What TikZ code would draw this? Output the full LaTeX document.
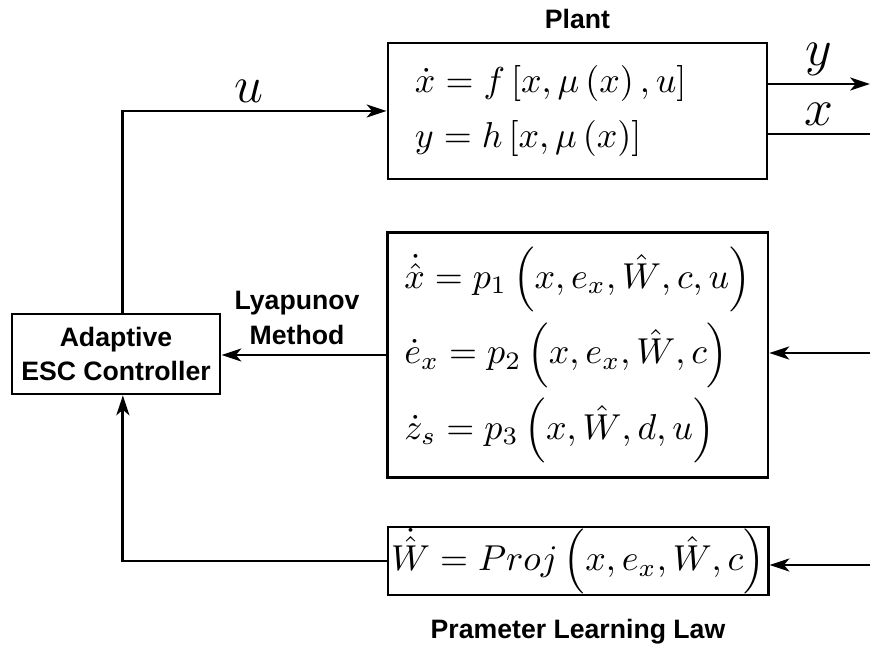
\documentclass[tikz,border=0pt]{standalone}
\usepackage{amsmath}
\usepackage{fontspec}
\usetikzlibrary{positioning,arrows.meta}
\newfontfamily\labelfont{Liberation Sans}
\tikzset{
  blockbox/.style={draw, thick, inner ysep=0pt, font=\fontsize{10}{15.3}\selectfont},
  ctrlbox/.style={draw, thick, align=center, inner sep=0pt,
    minimum width=57.8pt, minimum height=22.2pt,
    font=\labelfont\bfseries\fontsize{7.4}{9.7}\selectfont},
  tagtext/.style={align=center, inner sep=0pt,
    font=\labelfont\bfseries\fontsize{7.4}{9.7}\selectfont},
  sigtext/.style={inner sep=0pt, above=2pt, font=\Large},
  sigarrow/.style={-{Stealth[length=5.5pt, width=3.6pt, inset=1.5pt]}, thick},
  sigline/.style={thick}
}

\begin{document}
\begin{tikzpicture}[x=0.2778pt, y=-0.2778pt]
    \useasboundingbox (0,0) rectangle (870,648);
    % blocks
    \node[blockbox, align=left, inner xsep=7.5pt, text width=90.3pt,
      minimum height=37.8pt] (plant) at (577.5,111)
      {$\dot{x}=f\left[x,\mu\left(x\right),u\right]$\\
       $y=h\left[x,\mu\left(x\right)\right]$};
    \node[blockbox, align=left, inner xsep=0pt, minimum width=105.8pt,
      minimum height=68.3pt, font=\fontsize{10}{21}\selectfont] (obs) at (577.5,355)
      {$\dot{\hat{x}}=p_1\left(x,e_x,\hat{W},c,u\right)$\\
       $\dot{e}_x=p_2\left(x,e_x,\hat{W},c\right)$\\
       $\dot{z}_s=p_3\left(x,\hat{W},d,u\right)$};
    \node[blockbox, align=center, inner xsep=0pt, minimum width=105.6pt,
      minimum height=18.9pt] (law) at (578,561)
      {$\dot{\hat{W}}=Proj\left(x,e_x,\hat{W},c\right)$};
    \node[ctrlbox] (esc) at (116,354) {Adaptive\\ESC Controller};

    % captions
    \node[tagtext] (plantcap) at (577.5,19) {Plant};
    \node[tagtext] (lawcap) at (578,632) {Prameter Learning Law};
    \node[tagtext] (lyap) at (297,318) {Lyapunov\\Method};

    % free ends
    \coordinate (yout) at (870,84);
    \coordinate (xout) at (870,134);
    \coordinate (obsin) at (870,353);
    \coordinate (lawin) at (870,565);

    \draw[sigarrow] ([xshift=1.9pt]esc.north) |- (plant.west)
      node[sigtext, pos=0.74] {$u$};
    \draw[sigarrow] (plant.east |- yout) -- (yout) node[sigtext, midway] {$y$};
    \draw[sigline] (plant.east |- xout) -- (xout) node[sigtext, midway] {$x$};
    \draw[sigarrow] (obsin) -- (obs.east |- obsin);
    \draw[sigarrow] (obs.west) -- (obs.west -| esc.east);
    \draw[sigarrow] (lawin) -- (law.east |- lawin);
    \draw[sigarrow] (law.west) -| ([xshift=1.9pt]esc.south);
  \end{tikzpicture}
\end{document}
